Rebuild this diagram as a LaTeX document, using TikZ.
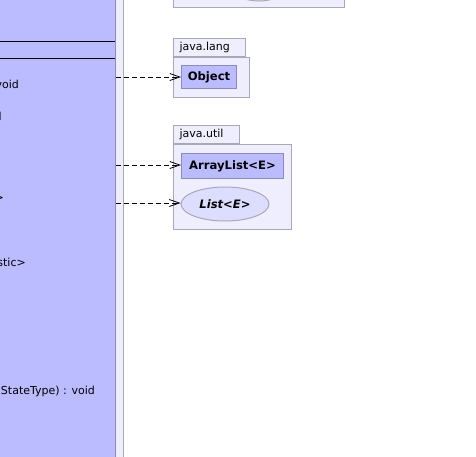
\documentclass[tikz,border=0pt]{standalone}
\usepackage{fontspec}
\setmainfont{DejaVu Sans}
\usepackage{tikz}
\usetikzlibrary{arrows.meta,positioning,shapes.geometric}
\definecolor{clsfill}{HTML}{BBBBFF}
\definecolor{clsline}{HTML}{8A8AC4}
\definecolor{pkgfill}{HTML}{EEEEFF}
\definecolor{pkgline}{HTML}{A8A8B8}
\definecolor{ifcfill}{HTML}{DDDDFF}
\tikzset{pkgbody/.style={draw=pkgline, fill=pkgfill, line width=1pt, inner sep=0pt, anchor=north west}}
\tikzset{pkgtab/.style={draw=pkgline, fill=pkgfill, line width=1pt, anchor=south west, minimum height=18pt,
		inner xsep=6pt, inner ysep=0pt, align=left, font=\fontsize{11}{13}\selectfont}}
\tikzset{umlclass/.style={draw=clsline, fill=clsfill, line width=1pt, anchor=north west, inner sep=0pt,
		font=\fontsize{11.6}{13}\selectfont\bfseries}}
\tikzset{umlifc/.style={ellipse, draw=pkgline, fill=ifcfill, line width=1pt, inner sep=0pt,
		font=\fontsize{11.6}{13}\selectfont\bfseries\itshape}}
\tikzset{member/.style={anchor=base east, inner sep=0pt, font=\fontsize{11}{13}\selectfont}}
\tikzset{depend/.style={dash pattern=on 5pt off 3pt, line width=0.8pt,
		-{Straight Barb[length=10pt,width=7pt,line width=0.8pt]}}}

\begin{document}
\begin{tikzpicture}[x=1pt,y=-1pt]
	\useasboundingbox (0,0) rectangle (476,456);
	\clip (0,0) rectangle (476,456);
	
	% package and class on the left
	\fill[pkgfill] (-10,-10) rectangle (123,466);
	\draw[pkgline, line width=1pt] (123,-10) -- (123,466);
	\fill[clsfill] (-10,-10) rectangle (115,466);
	\draw[clsline, line width=1pt] (115,-10) -- (115,466);
	\draw[line width=1pt] (-10,41) -- (115,41);
	\draw[line width=1pt] (-10,58) -- (115,58);
	
	\node[member] (m1) at (19,88) {void};
	\node[member] (m2) at (2,120) {l};
	\node[member] (m3) at (4,201) {>};
	\node[member] (m4) at (26,266) {stic>};
	\node[member] (m5) at (95,394) {StateType) : void};
	
	\coordinate (src1) at (116,77);
	\coordinate (src2) at (116,165);
	\coordinate (src3) at (116,203);
	
	% package at the top
	\node[pkgbody, minimum width=171pt, minimum height=40pt, anchor=south west] (top) at (173,8) {};
	\node[umlifc, minimum width=56pt, minimum height=30pt] (topifc) at (259,-14) {};
	
	% java.lang
	\node[pkgbody, minimum width=76pt, minimum height=40pt] (lang) at (173,57) {};
	\node[pkgtab, text width=60pt] (langtab) at (lang.north west) {java.lang};
	\node[umlclass, minimum width=55pt, minimum height=23pt] (object) at (181,65) {Object};
	
	% java.util
	\node[pkgbody, minimum width=118pt, minimum height=85pt] (util) at (173,144) {};
	\node[pkgtab, text width=54pt] (utiltab) at (util.north west) {java.util};
	\node[umlclass, minimum width=102pt, minimum height=25pt] (arraylist) at (181,153) {ArrayList<E>};
	\node[umlifc, minimum width=88pt, minimum height=34pt] (list) at (225,204) {List<E>};
	
	\draw[depend] (src1) -- (object);
	\draw[depend] (src2) -- (src2 -| arraylist.west);
	\draw[depend] (src3) -- (src3 -| list.west);
\end{tikzpicture}
\end{document}
